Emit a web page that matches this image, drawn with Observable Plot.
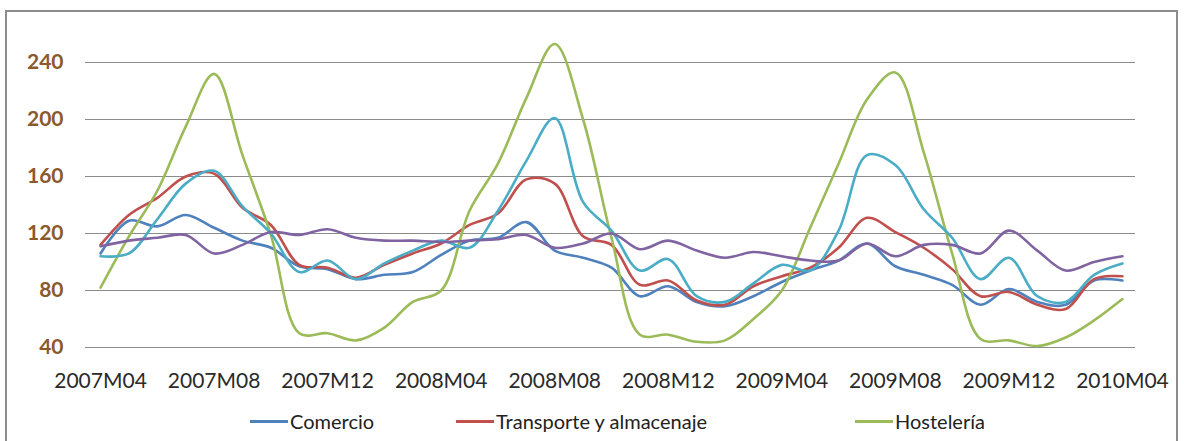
<!DOCTYPE html>
<html>
<head>
<meta charset="utf-8">
<script src="https://cdn.jsdelivr.net/npm/d3@7"></script>
<script src="https://cdn.jsdelivr.net/npm/@observablehq/plot@0.6"></script>
<style>
  html, body { margin: 0; padding: 0; background: #fff; }
  #wrap { position: relative; width: 1184px; height: 441px; overflow: hidden; font-family: Lato, "Open Sans", sans-serif; }
  #frame { position: absolute; left: 5px; top: 10px; width: 1173px; height: 440px; border: 2px solid #8c8c8c; box-sizing: border-box; }
  #chart { position: absolute; left: 0; top: 0; }
  #legend { position: absolute; left: 0; top: 409px; width: 1184px; height: 30px; }
  .item { position: absolute; top: 0; display: flex; align-items: center; font-size: 20px; color: #222; }
  .sw { width: 38px; height: 3px; margin-right: 2px; }
</style>
</head>
<body>
<div id="wrap">
  <div id="frame"></div>
  <div id="chart"></div>
  <div id="legend"></div>
</div>
<script>
// Month labels (2007M04 .. 2010M04)
const months = [
  "2007M04","2007M05","2007M06","2007M07","2007M08","2007M09","2007M10","2007M11","2007M12",
  "2008M01","2008M02","2008M03","2008M04","2008M05","2008M06","2008M07","2008M08","2008M09",
  "2008M10","2008M11","2008M12","2009M01","2009M02","2009M03","2009M04","2009M05","2009M06",
  "2009M07","2009M08","2009M09","2009M10","2009M11","2009M12","2010M01","2010M02","2010M03","2010M04"
];
const tickLabels = ["2007M04","2007M08","2007M12","2008M04","2008M08","2008M12","2009M04","2009M08","2009M12","2010M04"];
const yTicks = [40, 80, 120, 160, 200, 240];

// Series values
const comercio = [106,129,125,133,124,115,110,97,95,88,91,93,105,115,117,128,108,103,96,76,83,72,69,76,86,94,101,113,97,91,84,70,81,72,70,87,87];
const transporte = [112,133,145,160,162,138,126,98,96,89,98,106,113,126,134,158,155,118,112,84,87,73,70,83,90,96,110,131,121,110,95,76,79,70,67,88,90];
const hosteleria = [82,118,150,195,232,175,119,50,50,45,54,72,80,136,169,215,253,200,117,49,49,44,45,60,80,124,169,214,233,177,106,46,45,41,47,59,74];
const serie4 = [104,106,130,155,164,139,120,93,101,88,99,108,115,110,136,171,201,142,122,94,102,76,72,85,98,94,122,175,168,137,117,88,103,76,72,91,99];
const serie5 = [111,115,117,119,106,112,121,119,123,117,115,115,114,115,116,119,110,113,120,109,115,108,103,107,104,101,101,113,104,112,112,106,122,108,94,100,104];

const seriesNames = ["Comercio", "Transporte y almacenaje", "Hostelería", "Serie 4", "Serie 5"];
const seriesValues = [comercio, transporte, hosteleria, serie4, serie5];
const seriesColors = ["#4F81BD", "#C0504D", "#9BBB59", "#4BACC6", "#8064A2"];
const legendNames = ["Comercio", "Transporte y almacenaje", "Hostelería"];

const data = seriesNames.flatMap((name, k) => seriesValues[k].map((v, i) => ({i, v, name})));

const W = 1184, H = 405;
const chart = Plot.plot({
  width: W,
  height: H,
  marginLeft: 85,
  marginRight: 49,
  marginTop: 62,
  marginBottom: 58,
  style: { fontFamily: "Lato, 'Open Sans', sans-serif", background: "transparent", overflow: "visible" },
  x: { domain: [-0.53, 36.46], axis: null },
  y: { domain: [40, 240], axis: null },
  color: { domain: seriesNames, range: seriesColors },
  marks: [
    Plot.ruleY(yTicks, { stroke: "#8a8a8a", strokeWidth: 1.2 }),
    Plot.axisY(yTicks, { anchor: "left", label: null, tickSize: 0, tickPadding: 22, fontSize: 21, fontWeight: "bold", fill: "#8a5a2e", tickFormat: d => String(d) }),
    Plot.axisX(tickLabels.map(t => months.indexOf(t)), { anchor: "bottom", label: null, tickSize: 0, tickPadding: 26, fontSize: 21, fill: "#2a2a2a", tickFormat: i => months[i], textAnchor: "middle" }),
    Plot.line(data, { x: "i", y: "v", z: "name", stroke: "name", strokeWidth: 2.6, curve: "catmull-rom" })
  ]
});
document.getElementById("chart").appendChild(chart);

const legendX = [250, 456, 855];
const legend = document.getElementById("legend");
legendNames.forEach((name, k) => {
  const item = document.createElement("div");
  item.className = "item";
  item.style.left = legendX[k] + "px";
  const sw = document.createElement("div");
  sw.className = "sw";
  sw.style.background = seriesColors[seriesNames.indexOf(name)];
  const tx = document.createElement("span");
  tx.textContent = name;
  item.appendChild(sw);
  item.appendChild(tx);
  legend.appendChild(item);
});
</script>
</body>
</html>
